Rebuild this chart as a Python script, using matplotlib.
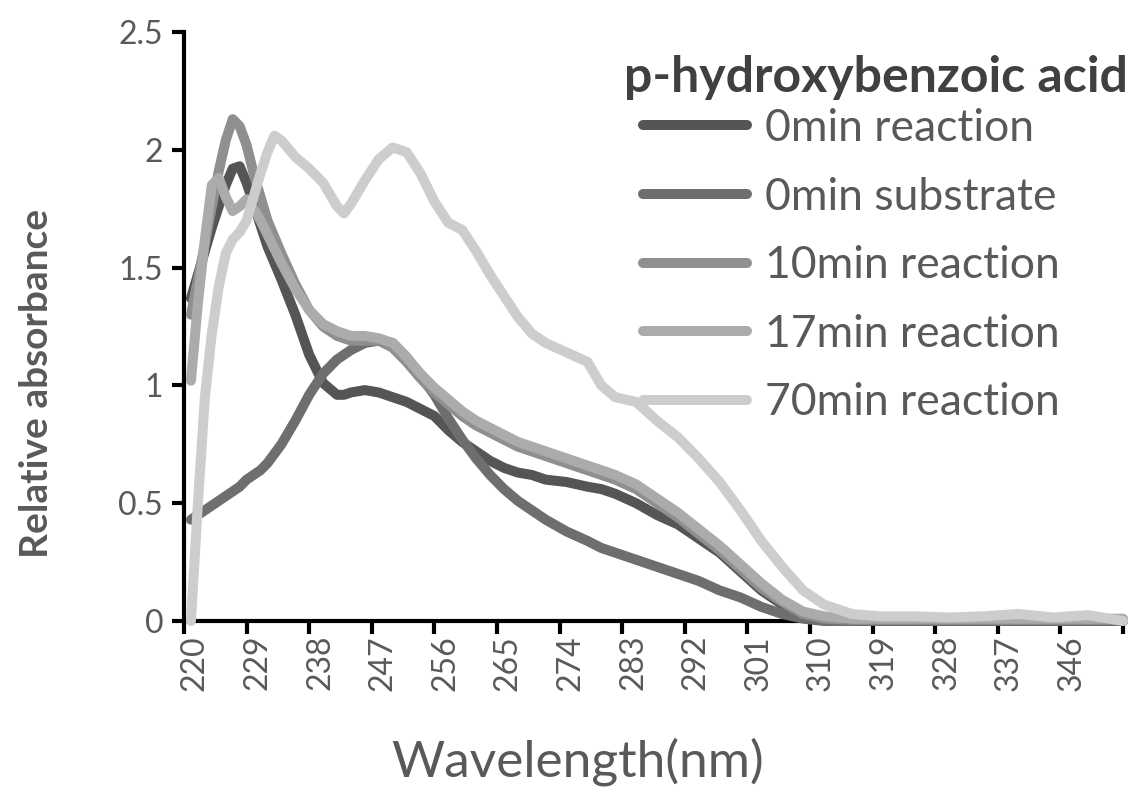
import matplotlib
matplotlib.use('Agg')
import matplotlib.pyplot as plt
import matplotlib.transforms as mtransforms

plt.rcParams['font.family'] = ['Lato', 'DejaVu Sans']

# wavelengths (nm)
wavelength = [221, 222, 223, 224, 225, 226, 227, 228, 229, 230,
              231, 232, 233, 234, 236, 238, 240, 242, 243, 244,
              246, 248, 250, 252, 254, 256, 258, 260, 262, 264,
              266, 268, 270, 272, 275, 278, 280, 282, 285, 288,
              291, 294, 297, 300, 303, 306, 309, 312, 316, 320,
              325, 330, 335, 340, 345, 350, 355]

r0 = [1.37, 1.47, 1.57, 1.67, 1.76, 1.85, 1.92, 1.93, 1.86, 1.77,
      1.68, 1.59, 1.52, 1.45, 1.30, 1.13, 1.01, 0.96, 0.96, 0.97,
      0.98, 0.97, 0.95, 0.93, 0.90, 0.87, 0.81, 0.76, 0.72, 0.68,
      0.65, 0.63, 0.62, 0.60, 0.59, 0.57, 0.56, 0.54, 0.50, 0.45,
      0.41, 0.35, 0.29, 0.21, 0.13, 0.07, 0.03, 0.01, 0.00, 0.00,
      0.00, 0.00, 0.00, 0.00, 0.00, 0.00, 0.00]

s0 = [0.43, 0.45, 0.47, 0.49, 0.51, 0.53, 0.55, 0.57, 0.60, 0.62,
      0.64, 0.67, 0.71, 0.75, 0.85, 0.96, 1.05, 1.11, 1.13, 1.15,
      1.18, 1.19, 1.18, 1.12, 1.04, 0.96, 0.86, 0.77, 0.69, 0.62,
      0.56, 0.51, 0.47, 0.43, 0.38, 0.34, 0.31, 0.29, 0.26, 0.23,
      0.20, 0.17, 0.13, 0.10, 0.06, 0.03, 0.01, 0.00, 0.00, 0.00,
      0.00, 0.00, 0.00, 0.00, 0.00, 0.00, 0.00]

r10 = [1.30, 1.45, 1.60, 1.76, 1.91, 2.04, 2.13, 2.10, 2.02, 1.90,
       1.80, 1.70, 1.63, 1.56, 1.43, 1.32, 1.25, 1.21, 1.20, 1.19,
       1.19, 1.19, 1.16, 1.10, 1.03, 0.97, 0.92, 0.87, 0.83, 0.80,
       0.77, 0.74, 0.72, 0.70, 0.67, 0.64, 0.62, 0.60, 0.56, 0.50,
       0.44, 0.37, 0.30, 0.22, 0.14, 0.08, 0.03, 0.01, 0.005, 0.005,
       0.005, 0.005, 0.005, 0.005, 0.005, 0.005, 0.005]

r17 = [1.02, 1.35, 1.62, 1.85, 1.88, 1.80, 1.74, 1.76, 1.79, 1.75,
       1.70, 1.64, 1.58, 1.52, 1.41, 1.32, 1.26, 1.23, 1.22, 1.21,
       1.21, 1.20, 1.18, 1.12, 1.05, 0.99, 0.94, 0.89, 0.85, 0.82,
       0.79, 0.76, 0.74, 0.72, 0.69, 0.66, 0.64, 0.62, 0.58, 0.52,
       0.46, 0.39, 0.32, 0.24, 0.16, 0.09, 0.04, 0.02, 0.01, 0.01,
       0.01, 0.01, 0.01, 0.01, 0.01, 0.01, 0.01]

r70 = [0.00, 0.50, 0.95, 1.22, 1.42, 1.56, 1.62, 1.65, 1.70, 1.80,
       1.90, 1.99, 2.06, 2.04, 1.97, 1.92, 1.86, 1.76, 1.73, 1.77,
       1.87, 1.96, 2.01, 1.99, 1.90, 1.78, 1.69, 1.66, 1.57, 1.47,
       1.38, 1.29, 1.22, 1.18, 1.14, 1.10, 1.00, 0.95, 0.93, 0.85,
       0.78, 0.69, 0.59, 0.47, 0.34, 0.23, 0.13, 0.07, 0.03, 0.02,
       0.02, 0.015, 0.02, 0.03, 0.015, 0.025, 0.00]

series = [r0, s0, r10, r17, r70]
labels = ['0min reaction', '0min substrate', '10min reaction', '17min reaction', '70min reaction']
colors = ['#555555', '#6e6e6e', '#8f8f8f', '#ababab', '#cdcdcd']

xticks = list(range(220, 356, 9))
xtick_labels = [str(t) for t in xticks[:-1]] + ['']
yticks = [0, 0.5, 1, 1.5, 2, 2.5]
ytick_labels = ['0', '0.5', '1', '1.5', '2', '2.5']

fig = plt.figure(figsize=(11.44, 8.02), dpi=100)
W, H = 1144, 802
ax = fig.add_axes([184 / W, 1 - 621 / H, (1123 - 184) / W, (621 - 32) / H])

handles = []
for vals, lab, col in zip(series, labels, colors):
    ln, = ax.plot(wavelength, vals, color=col, lw=7.2, label=lab,
                  solid_capstyle='round', solid_joinstyle='round',
                  clip_on=False, zorder=3)
    handles.append(ln)

ax.set_xlim(220, 355)
ax.set_ylim(0, 2.5)
ax.set_xticks(xticks)
ax.set_xticklabels(xtick_labels, rotation=90, fontsize=23, color='#595959')
ax.set_yticks(yticks)
ax.set_yticklabels(ytick_labels, fontsize=23, color='#595959')

for s in ['top', 'right']:
    ax.spines[s].set_visible(False)
for s in ['left', 'bottom']:
    ax.spines[s].set_linewidth(3)
    ax.spines[s].set_color('black')
ax.tick_params(axis='both', direction='out', length=9, width=3, color='black')
ax.tick_params(axis='x', pad=1)
ax.tick_params(axis='y', pad=6)

# rotated labels sit a bit right of their ticks in the original
shift = mtransforms.ScaledTranslation(0.11, 0, fig.dpi_scale_trans)
for lbl in ax.get_xticklabels():
    lbl.set_transform(lbl.get_transform() + shift)

fig.text(578 / W, 1 - 762 / H, 'Wavelength(nm)', fontsize=37, color='#595959',
         ha='center', va='center')
fig.text(37 / W, 1 - 383 / H, 'Relative absorbance', fontsize=28, fontweight='bold',
         color='#595959', rotation=90, ha='center', va='center')

fig.text(624 / W, 1 - 78 / H, 'p-hydroxybenzoic acid', fontsize=36, fontweight='bold',
         color='#404040', ha='left', va='center')
leg = ax.legend(handles=handles, loc='upper left',
                bbox_to_anchor=(643 / W, 1 - 108 / H), bbox_transform=fig.transFigure,
                frameon=False, fontsize=32, handlelength=2.35, handletextpad=0.4,
                labelspacing=0.62, borderpad=0, borderaxespad=0)
for t in leg.get_texts():
    t.set_color('#595959')

fig.savefig('out.png', dpi=100)
